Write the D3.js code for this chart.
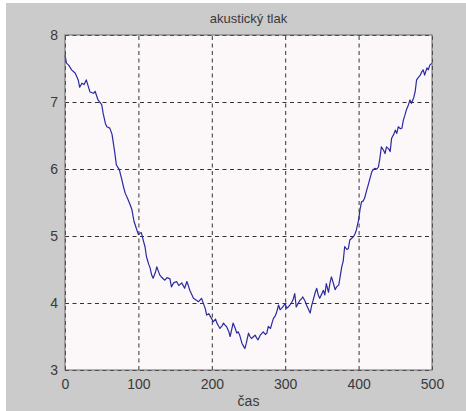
<!DOCTYPE html>
<html>
<head>
<meta charset="utf-8">
<script src="https://cdn.jsdelivr.net/npm/d3@7"></script>
<style>
  body { margin: 0; background: #fff; }
  text { font-family: "Liberation Sans", Arial, sans-serif; fill: #3a3a3a; }
</style>
</head>
<body>
<div id="plot"></div>
<script>
// sample times and acoustic pressure
const cas = [0,2,5,9,14,18,20,23,26,29,34,39,41,45,50,52,55,57,61,64,66,68,70,74,77,80,82,86,89,91,94,97,100,102,104,107,109,111,114,116,118,120,123,125,127,129,132,136,139,143,145,148,152,155,159,163,166,168,170,173,175,178,182,186,189,191,193,196,198,202,205,207,209,211,214,216,218,220,223,225,227,229,232,234,236,238,241,243,245,247,250,252,254,257,259,261,263,266,270,273,275,277,280,282,284,286,288,291,293,295,298,300,302,304,307,309,311,313,315,318,320,322,324,327,329,332,334,336,338,341,343,345,347,350,352,354,356,359,361,363,366,368,370,373,375,377,379,381,384,386,388,391,393,395,397,400,402,404,406,408,411,413,416,418,420,422,425,427,429,431,434,436,438,441,443,445,448,450,452,454,457,459,461,463,465,468,470,472,475,477,479,481,484,486,488,490,493,495,497,500];
const tlak = [7.70,7.58,7.55,7.48,7.43,7.33,7.22,7.28,7.26,7.33,7.15,7.13,7.16,7.03,6.96,6.83,6.68,6.63,6.61,6.52,6.38,6.23,6.06,5.99,5.86,5.72,5.64,5.54,5.46,5.40,5.22,5.12,5.02,5.04,5.05,4.92,4.84,4.69,4.58,4.52,4.42,4.37,4.45,4.54,4.48,4.42,4.38,4.34,4.38,4.36,4.24,4.30,4.32,4.26,4.30,4.22,4.32,4.26,4.19,4.12,4.07,4.05,4.02,4.07,3.98,3.92,3.82,3.84,3.80,3.72,3.76,3.70,3.66,3.62,3.66,3.70,3.67,3.65,3.58,3.50,3.60,3.70,3.62,3.55,3.57,3.52,3.40,3.36,3.32,3.40,3.55,3.50,3.47,3.50,3.52,3.48,3.45,3.52,3.57,3.53,3.55,3.65,3.62,3.70,3.77,3.80,3.85,3.97,3.90,3.92,3.96,3.99,3.92,3.94,3.98,4.01,4.06,4.14,3.94,4.00,4.04,4.06,4.09,4.03,3.97,3.90,3.85,3.96,4.04,4.16,4.22,4.12,4.07,4.14,4.19,4.12,4.29,4.16,4.30,4.39,4.28,4.20,4.24,4.27,4.40,4.54,4.62,4.84,4.80,4.81,4.94,4.97,4.99,5.03,5.09,5.24,5.40,5.51,5.52,5.56,5.68,5.76,5.88,5.96,5.99,6.01,6.00,6.03,6.16,6.33,6.28,6.23,6.33,6.30,6.26,6.46,6.52,6.58,6.53,6.63,6.60,6.61,6.73,6.80,6.88,6.96,7.03,6.98,7.06,7.15,7.33,7.36,7.40,7.45,7.48,7.40,7.51,7.48,7.55,7.58];
const xTicks = [0, 100, 200, 300, 400, 500];
const yTicks = [3, 4, 5, 6, 7, 8];

const width = 466, height = 411;
const mLeft = 65, mRight = 432, mTop = 35, mBottom = 370;

const svg = d3.select("#plot")
  .append("svg")
    .attr("width", width)
    .attr("height", height);

// grey figure background
svg.append("rect")
  .attr("x", 6).attr("y", 3)
  .attr("width", width - 6).attr("height", height - 3)
  .attr("fill", "#cbcbcb");

// axes area
svg.append("rect")
  .attr("x", mLeft).attr("y", mTop)
  .attr("width", mRight - mLeft).attr("height", mBottom - mTop)
  .attr("fill", "#fcf7f9");

const x = d3.scaleLinear().domain([0, 500]).range([mLeft, mRight]);
const y = d3.scaleLinear().domain([3, 8]).range([mBottom, mTop]);

// grid + tick labels
const xAxis = svg.append("g")
  .attr("transform", `translate(0, ${mBottom})`)
  .call(d3.axisBottom(x).tickValues(xTicks).tickSize(-(mBottom - mTop)).tickPadding(9).tickFormat(d3.format("d")));
const yAxis = svg.append("g")
  .attr("transform", `translate(${mLeft}, 0)`)
  .call(d3.axisLeft(y).tickValues(yTicks).tickSize(-(mRight - mLeft)).tickPadding(7).tickFormat(d3.format("d")));

[xAxis, yAxis].forEach(a => {
  a.select(".domain").remove();
  a.selectAll("line")
    .attr("stroke", "#333")
    .attr("stroke-dasharray", "4,3.5");
  a.selectAll("text")
    .attr("font-size", 14)
    .style("font-family", "'Liberation Sans', Arial, sans-serif")
    .attr("fill", "#3a3a3a");
});

// the signal
const line = d3.line()
  .x((d, i) => x(cas[i]))
  .y(d => y(d));

svg.append("path")
  .datum(tlak)
  .attr("d", line)
  .attr("fill", "none")
  .attr("stroke", "#2a2aa0")
  .attr("stroke-width", 1.2)
  .attr("stroke-linejoin", "round");

// axes box
svg.append("rect")
  .attr("x", mLeft).attr("y", mTop)
  .attr("width", mRight - mLeft).attr("height", mBottom - mTop)
  .attr("fill", "none")
  .attr("stroke", "#6a6a6a")
  .attr("stroke-width", 1);

// title and label
svg.append("text")
  .attr("x", (mLeft + mRight) / 2).attr("y", 23)
  .attr("text-anchor", "middle")
  .attr("font-size", 13)
  .text("akustický tlak");

svg.append("text")
  .attr("x", (mLeft + mRight) / 2).attr("y", 406)
  .attr("text-anchor", "middle")
  .attr("font-size", 14)
  .text("čas");
</script>
</body>
</html>
